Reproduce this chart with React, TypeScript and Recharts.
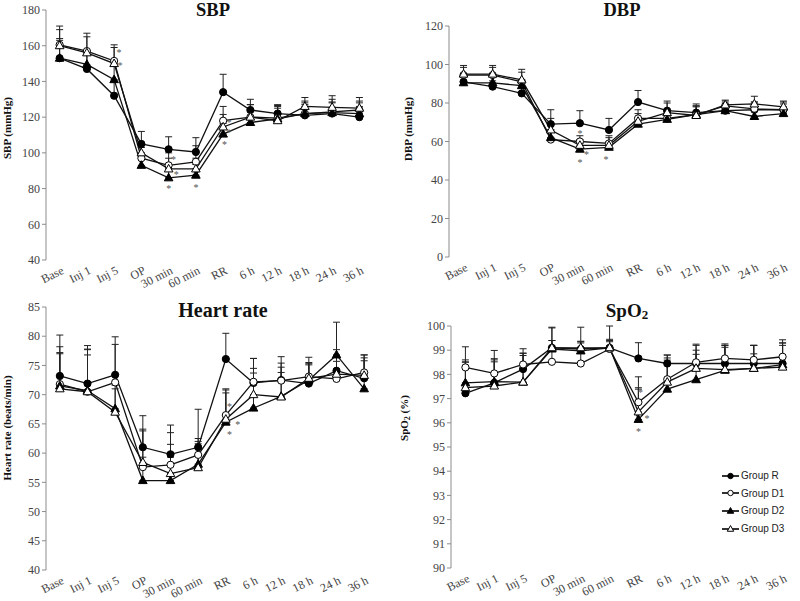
import React from 'react'
import { ComposedChart, Line, XAxis, YAxis, ErrorBar, Scatter, Legend } from 'recharts'

const categories = ['Base', 'Inj 1', 'Inj 5', 'OP', '30 min', '60 min', 'RR', '6 h', '12 h', '18 h', '24 h', '36 h']

// SBP (mmHg)
const sbpR = [153, 147, 132, 105, 102, 100.5, 134, 124, 122, 121, 122, 120]
const sbpD1 = [160.5, 157, 151.5, 97, 93, 95, 118, 120, 119.5, 122, 123, 124]
const sbpD2 = [153, 149.5, 141, 93, 86, 87.5, 110.5, 117, 119, 122, 122.5, 122]
const sbpD3 = [160, 156, 150, 100, 91, 91, 114.5, 120, 118, 126, 125.5, 125]
const sbpRSd = [11, 8, 8, 7, 7, 8, 10, 6, 5, 6, 6, 6]
const sbpD1Sd = [10.5, 10, 9, 6, 7, 9, 8, 7, 7, 7, 7, 5]
const sbpD2Sd = [10, 7, 8, 6, 5, 6, 6, 6, 6, 6, 6, 6]
const sbpD3Sd = [9, 9, 9, 5, 6, 6, 7, 7, 8, 5, 6.5, 6]
const sbpTicks = [40, 60, 80, 100, 120, 140, 160, 180]
const sbpStars = [
  { x: 2.68, y: 157 }, { x: 2.72, y: 149.5 }, { x: 4.68, y: 97 }, { x: 4.78, y: 88.5 },
  { x: 4.5, y: 81 }, { x: 5.5, y: 81.5 }, { x: 6.72, y: 118 }, { x: 6.72, y: 112.5 }, { x: 6.55, y: 105.5 },
]

// DBP (mmHg)
const dbpR = [91, 88.5, 85, 69, 69.5, 66, 80.5, 76, 75, 76, 76.5, 76.5]
const dbpD1 = [94.5, 94.5, 91, 61, 60, 59, 72, 72, 74, 78.5, 77, 76.5]
const dbpD2 = [90.5, 90.5, 89, 62, 56, 57, 69, 71.5, 74, 76, 73, 74.5]
const dbpD3 = [95, 95, 92, 66, 58, 58, 70.5, 75, 73.5, 79, 79.5, 78]
const dbpRSd = [3, 3, 3, 7.5, 6.5, 6, 6, 5, 4.5, 4, 4, 4]
const dbpD1Sd = [4, 4, 5, 5, 3, 4, 4.5, 4, 4.5, 2.5, 3.5, 3]
const dbpD2Sd = [3, 3, 3, 4, 3, 3, 3, 3, 4, 3, 3, 3]
const dbpD3Sd = [4.5, 4.5, 5.5, 6, 3, 4, 4, 5, 5, 2.5, 4, 3]
const dbpTicks = [0, 20, 40, 60, 80, 100, 120]
const dbpStars = [{ x: 4.5, y: 65 }, { x: 4.73, y: 54 }, { x: 4.5, y: 50 }, { x: 5.4, y: 51.5 }]

// Heart rate (beats/min)
const hrR = [73.2, 71.9, 73.4, 61, 59.8, 61, 76.1, 72, 72.5, 71.9, 74.1, 72.8]
const hrD1 = [71.8, 70.5, 72.1, 57.6, 58, 59.7, 66.5, 72.2, 72.4, 73.1, 72.7, 73.8]
const hrD2 = [71.5, 70.7, 67.6, 55.3, 55.3, 58.1, 65.3, 67.7, 69.7, 72.5, 76.8, 71]
const hrD3 = [71, 70.5, 67, 58.4, 56.5, 57.5, 65.8, 70, 69.6, 72.8, 73.5, 73.3]
const hrRSd = [7, 6.5, 6.5, 5.4, 5, 6.5, 4.4, 4.2, 4, 4.5, 3.6, 4]
const hrD1Sd = [6.4, 7.3, 6.5, 6.5, 5.5, 2.8, 4.5, 4, 3, 2, 3, 3]
const hrD2Sd = [5.5, 7, 4, 4, 4, 3.5, 5, 6, 5, 3, 5.6, 4.8]
const hrD3Sd = [6.2, 6.3, 4, 5.4, 5, 4.5, 5, 4.5, 4.2, 2.5, 3, 3]
const hrTicks = [40, 45, 50, 55, 60, 65, 70, 75, 80, 85]
const hrStars = [{ x: 6.63, y: 68.3 }, { x: 6.93, y: 65.1 }, { x: 6.63, y: 63.5 }]

// SpO2 (%)
const spoR = [97.22, 97.65, 98.22, 99.1, 99.05, 99.1, 98.66, 98.45, 98.45, 98.45, 98.45, 98.45]
const spoD1 = [98.29, 98.04, 98.41, 98.52, 98.45, 99.05, 96.85, 97.8, 98.5, 98.66, 98.6, 98.73]
const spoD2 = [97.65, 97.7, 97.68, 99.05, 98.97, 99.1, 96.14, 97.39, 97.78, 98.17, 98.25, 98.4]
const spoD3 = [97.45, 97.52, 97.68, 99.1, 99.1, 99.1, 96.45, 97.68, 98.25, 98.2, 98.25, 98.3]
const spoRSd = [1.3, 1.0, 0.65, 0.85, 0.3, 0.9, 0.65, 0.35, 0.75, 0.75, 0.75, 0.85]
const spoD1Sd = [0.85, 0.95, 0.65, 1.4, 1.5, 0.4, 1.05, 1.0, 0.75, 0.6, 0.6, 0.7]
const spoD2Sd = [0.95, 0.9, 1.2, 0.35, 0.4, 0.25, 1.25, 1.2, 1.05, 0.95, 0.95, 0.8]
const spoD3Sd = [1.05, 1.0, 1.1, 0.3, 0.2, 0.3, 1.0, 1.0, 0.75, 1.0, 0.6, 1.0]
const spoTicks = [90, 91, 92, 93, 94, 95, 96, 97, 98, 99, 100]
const spoStars = [{ x: 6.57, y: 97.32 }, { x: 6.8, y: 96.25 }, { x: 6.5, y: 95.7 }]

const series = [
  { key: 'R', name: 'Group R', marker: 'filledCircle' },
  { key: 'D1', name: 'Group D1', marker: 'openCircle' },
  { key: 'D2', name: 'Group D2', marker: 'filledTri' },
  { key: 'D3', name: 'Group D3', marker: 'openTri' },
]

const serif = "'Liberation Serif', 'Times New Roman', serif"
const axisGray = '#8c8c8c'
const edgeTicks = categories.map((_, i) => i).concat(categories.length)
const centerTicks = categories.map((_, i) => i + 0.5)

function buildRows(r: number[], d1: number[], d2: number[], d3: number[], rs: number[], d1s: number[], d2s: number[], d3s: number[]) {
  return categories.map((cat, i) => ({
    x: i + 0.5,
    cat,
    R: r[i], D1: d1[i], D2: d2[i], D3: d3[i],
    R_e: [0, rs[i]], D1_e: [0, d1s[i]], D2_e: [0, d2s[i]], D3_e: [0, d3s[i]],
  }))
}

function Marker({ kind, cx, cy, s = 1 }: { kind: string; cx: number; cy: number; s?: number }) {
  if (cx == null || cy == null) return null
  if (kind === 'filledCircle' || kind === 'openCircle') {
    return <circle cx={cx} cy={cy} r={3.6 * s} fill={kind === 'filledCircle' ? '#000' : '#fff'} stroke="#000" strokeWidth={1} />
  }
  const pts = `${cx},${cy - 4.6 * s} ${cx - 4.3 * s},${cy + 3 * s} ${cx + 4.3 * s},${cy + 3 * s}`
  return <polygon points={pts} fill={kind === 'filledTri' ? '#000' : '#fff'} stroke="#000" strokeWidth={1} />
}

function CatTick(props: any) {
  const { x, y, payload } = props
  const label = categories[Math.floor(payload.value)]
  const tx = x + 5
  const ty = y + 13
  return (
    <text x={tx} y={ty} textAnchor="end" transform={`rotate(-27 ${tx} ${ty})`} fontFamily={serif} fontSize={12} fill="#444">
      {label}
    </text>
  )
}

function Star(props: any) {
  const { cx, cy } = props
  return (
    <text x={cx} y={cy + 5} textAnchor="middle" fontFamily={serif} fontSize={10} fill="#555">*</text>
  )
}

function LegendBox() {
  return (
    <div style={{ fontFamily: "'Liberation Sans', Arial, sans-serif", fontSize: 10, color: '#222' }}>
      {series.map((s) => (
        <div key={s.key} style={{ display: 'flex', alignItems: 'center', height: 17.6 }}>
          <svg width={18} height={12}>
            <line x1={0} y1={6} x2={17} y2={6} stroke="#000" strokeWidth={1.6} />
            <Marker kind={s.marker} cx={8.5} cy={6} s={0.75} />
          </svg>
          <span style={{ marginLeft: 1 }}>{s.name}</span>
        </div>
      ))}
    </div>
  )
}

type PanelProps = {
  left: number; top: number; width: number; height: number
  margin: { top: number; right: number; left: number; bottom: number }
  yWidth: number; labelH: number
  domain: [number, number]; ticks: number[]
  rows: any[]; stars: { x: number; y: number }[]
  legend?: boolean
}

function Panel(p: PanelProps) {
  return (
    <div style={{ position: 'absolute', left: p.left, top: p.top }}>
      <ComposedChart width={p.width} height={p.height} data={p.rows} margin={p.margin}>
        <XAxis xAxisId="edges" dataKey="x" type="number" domain={[0, 12]} ticks={edgeTicks} interval={0}
          tick={false} tickSize={4} height={0} stroke={axisGray} allowDataOverflow />
        <XAxis xAxisId="cat" dataKey="x" type="number" domain={[0, 12]} ticks={centerTicks} interval={0}
          axisLine={false} tickLine={false} tickSize={0} tickMargin={0} height={p.labelH} tick={<CatTick />} allowDataOverflow />
        <YAxis type="number" domain={p.domain} ticks={p.ticks} interval={0} width={p.yWidth} stroke={axisGray}
          tickSize={4} tickMargin={2} tick={{ fontFamily: serif, fontSize: 12, fill: '#444' }} allowDataOverflow />
        {series.map((s) => (
          <Line key={s.key} xAxisId="cat" type="linear" dataKey={s.key} name={s.name} stroke="#111" strokeWidth={1.3}
            isAnimationActive={false}
            dot={(d: any) => <Marker key={`${s.key}-${d.index}`} kind={s.marker} cx={d.cx} cy={d.cy} />}>
            <ErrorBar dataKey={`${s.key}_e`} direction="y" width={3.5} stroke="#222" strokeWidth={1} />
          </Line>
        ))}
        <Scatter xAxisId="cat" data={p.stars} dataKey="y" shape={<Star />} isAnimationActive={false} />
        {p.legend && (
          <Legend layout="vertical" align="center" verticalAlign="middle" content={<LegendBox />}
            wrapperStyle={{ left: 322, top: 167, width: 80 }} />
        )}
      </ComposedChart>
    </div>
  )
}

export default function App() {
  const sbpRows = buildRows(sbpR, sbpD1, sbpD2, sbpD3, sbpRSd, sbpD1Sd, sbpD2Sd, sbpD3Sd)
  const dbpRows = buildRows(dbpR, dbpD1, dbpD2, dbpD3, dbpRSd, dbpD1Sd, dbpD2Sd, dbpD3Sd)
  const hrRows = buildRows(hrR, hrD1, hrD2, hrD3, hrRSd, hrD1Sd, hrD2Sd, hrD3Sd)
  const spoRows = buildRows(spoR, spoD1, spoD2, spoD3, spoRSd, spoD1Sd, spoD2Sd, spoD3Sd)

  return (
    <div style={{ position: 'absolute', left: 0, top: 0, width: 800, height: 601, background: '#fff', overflow: 'hidden' }}>
      <Panel left={0} top={0} width={400} height={300} margin={{ top: 10, right: 27, left: 0, bottom: 0 }}
        yWidth={46} labelH={40} domain={[40, 180]} ticks={sbpTicks} rows={sbpRows} stars={sbpStars} />
      <Panel left={400} top={0} width={400} height={300} margin={{ top: 26, right: 2, left: 0, bottom: 0 }}
        yWidth={49} labelH={43} domain={[0, 120]} ticks={dbpTicks} rows={dbpRows} stars={dbpStars} />
      <Panel left={0} top={300} width={400} height={301} margin={{ top: 7, right: 22, left: 0, bottom: 0 }}
        yWidth={46} labelH={31} domain={[40, 85]} ticks={hrTicks} rows={hrRows} stars={hrStars} />
      <Panel left={400} top={300} width={400} height={301} margin={{ top: 26, right: 3, left: 0, bottom: 0 }}
        yWidth={51} labelH={33} domain={[90, 100]} ticks={spoTicks} rows={spoRows} stars={spoStars} legend />

      <svg width={800} height={601} style={{ position: 'absolute', left: 0, top: 0, pointerEvents: 'none' }}>
        <g fontFamily={serif} fontWeight="bold" fill="#111" textAnchor="middle">
          <text x={213} y={16} fontSize={18.5}>SBP</text>
          <text x={622} y={16} fontSize={18.5}>DBP</text>
          <text x={223} y={317} fontSize={20}>Heart rate</text>
          <text x={627} y={317} fontSize={19}>
            SpO<tspan fontSize={13} dy={2}>2</tspan>
          </text>
          <text x={10.5} y={128} fontSize={11} transform="rotate(-90 10.5 128)">SBP (mmHg)</text>
          <text x={411.5} y={129} fontSize={11} transform="rotate(-90 411.5 129)">DBP (mmHg)</text>
          <text x={10.5} y={428} fontSize={11} transform="rotate(-90 10.5 428)">Heart rate (beats/min)</text>
          <text x={407.5} y={418} fontSize={11} transform="rotate(-90 407.5 418)">
            SpO<tspan fontSize={8} dy={2}>2</tspan><tspan dy={-2}> (%)</tspan>
          </text>
        </g>
      </svg>
    </div>
  )
}
